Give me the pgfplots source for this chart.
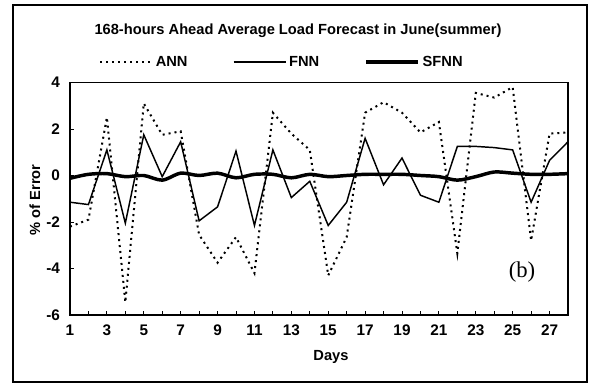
\documentclass[border=0pt]{standalone}
\usepackage{pgfplots}
\pgfplotsset{compat=1.18}
\usepackage{fontspec}
\setmainfont{Liberation Sans}
\newfontfamily\serif{Liberation Serif}
\begin{document}
\begin{tikzpicture}
\begin{scope}[x=0.75pt,y=-0.75pt]
\useasboundingbox (0,0) rectangle (593,392);
\draw[line width=1pt] (13,5) rectangle (587,382);
\node[font=\fontsize{11}{13}\selectfont\bfseries] at (298,31) {168-hours Ahead Average Load Forecast in June(summer)};
\node[font=\fontsize{11}{13}\selectfont\bfseries] at (331,357) {Days};
\node[font=\fontsize{11}{13}\selectfont\bfseries, rotate=90] at (35,200) {\% of Error};
\node[font=\serif\fontsize{17}{19}\selectfont] at (522,272) {(b)};
\end{scope}
\begin{axis}[
  at={(52.5pt,-236.25pt)}, anchor=south west,
  width=373.5pt, height=174.4pt, scale only axis,
  xmin=1, xmax=28, ymin=-6, ymax=4,
  xtick={1,3,...,27}, minor xtick={2,4,...,28},
  ytick={-6,-4,...,4},
  tick align=inside, major tick length=3pt, minor tick length=3pt,
  xtick pos=bottom, ytick pos=left,
  tick style={black, line width=0.6pt},
  axis line style={line width=0.9pt},
  ticklabel style={font=\fontsize{11.5}{13}\selectfont\bfseries},
  /pgf/number format/assume math mode=true,
  xticklabel style={yshift=-4pt},
  yticklabel style={xshift=-4pt},
  legend columns=3,
  legend style={draw=none, fill=none, at={(0.058,1.088)}, anchor=west,
    font=\fontsize{11}{13}\selectfont\bfseries, inner sep=0pt,
    /tikz/every even column/.append style={column sep=32pt}},
  legend image code/.code={\draw[#1] (0pt,0pt) -- (39pt,0pt);},
]
\addplot[black, line width=1.5pt, dash pattern=on 1.5pt off 3pt] coordinates {
(1,-2.2) (2,-1.9) (3,2.5) (4,-5.45) (5,3.1) (6,1.75) (7,1.9) (8,-2.55) (9,-3.75) (10,-2.65)
(11,-4.2) (12,2.7) (13,1.8) (14,1.1) (15,-4.3) (16,-2.65) (17,2.7) (18,3.15) (19,2.7) (20,1.85)
(21,2.3) (22,-3.35) (23,3.55) (24,3.35) (25,3.8) (26,-2.8) (27,1.8) (28,1.85)};
\addlegendentry{ANN}
\addplot[black, line width=1.1pt] coordinates {
(1,-1.15) (2,-1.25) (3,1.1) (4,-2.05) (5,1.75) (6,-0.05) (7,1.45) (8,-1.95) (9,-1.35) (10,1.05)
(11,-2.15) (12,1.1) (13,-0.95) (14,-0.25) (15,-2.15) (16,-1.15) (17,1.6) (18,-0.4) (19,0.75) (20,-0.85)
(21,-1.15) (22,1.25) (23,1.25) (24,1.2) (25,1.1) (26,-1.15) (27,0.65) (28,1.45)};
\addlegendentry{FNN}
\addplot[black, line width=2.6pt, smooth] coordinates {
(1,-0.12) (2,0.05) (3,0.08) (4,-0.05) (5,0) (6,-0.2) (7,0.1) (8,0) (9,0.1) (10,-0.1)
(11,0.05) (12,0.05) (13,-0.1) (14,0.05) (15,-0.05) (16,0) (17,0.05) (18,0.05) (19,0.05) (20,0)
(21,-0.05) (22,-0.2) (23,-0.05) (24,0.15) (25,0.1) (26,0.05) (27,0.05) (28,0.08)};
\addlegendentry{SFNN}
\end{axis}
\end{tikzpicture}
\end{document}
